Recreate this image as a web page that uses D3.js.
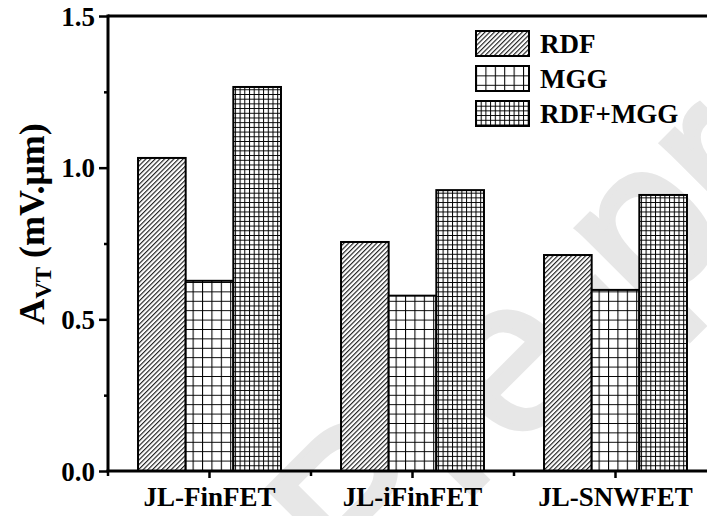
<!DOCTYPE html>
<html>
<head>
<meta charset="utf-8">
<script src="https://cdn.jsdelivr.net/npm/d3@7"></script>
<style>
  html, body { margin: 0; padding: 0; background: #fff; }
  svg { display: block; }
  text { font-family: "Liberation Serif", "Times New Roman", serif; font-weight: bold; fill: #000; }
</style>
</head>
<body>
<svg id="chart" width="707" height="516"></svg>
<script>
// Threshold-voltage variability coefficient for each device and variation source
const devices = ["JL-FinFET", "JL-iFinFET", "JL-SNWFET"];
const sources = ["RDF", "MGG", "RDF+MGG"];
const rdfValues = [1.032, 0.755, 0.712];
const mggValues = [0.627, 0.578, 0.597];
const combinedValues = [1.266, 0.926, 0.910];
const yMajorTicks = [0.0, 0.5, 1.0, 1.5];
const yMinorTicks = [0.25, 0.75, 1.25];
const yTickLabels = ["0.0", "0.5", "1.0", "1.5"];

const seriesValues = { "RDF": rdfValues, "MGG": mggValues, "RDF+MGG": combinedValues };
const rows = devices.map((d, i) => ({
  device: d,
  values: sources.map(s => ({ source: s, value: seriesValues[s][i] }))
}));

const W = 707, H = 516;
const svg = d3.select("#chart");

const plotLeft = 108, plotTop = 16, plotBottom = 471;
const x0 = d3.scaleBand().domain(devices).range([plotLeft, plotLeft + 203 * 3]).paddingInner(0).paddingOuter(0);
const x1 = d3.scaleBand().domain(sources).range([0, x0.bandwidth()]).paddingInner(0).paddingOuter(0.63);
const y = d3.scaleLinear().domain([0, 1.5]).range([plotBottom, plotTop]);

// Fill patterns
const defs = svg.append("defs");
const patId = s => "pat" + sources.indexOf(s);
defs.append("pattern")
  .attr("id", patId("RDF")).attr("patternUnits", "userSpaceOnUse")
  .attr("width", 3.3).attr("height", 3.3)
  .attr("patternTransform", "rotate(45)")
  .call(p => {
    p.append("rect").attr("width", 3.3).attr("height", 3.3).attr("fill", "#fff");
    p.append("line").attr("x1", 0.6).attr("y1", 0).attr("x2", 0.6).attr("y2", 3.3)
      .attr("stroke", "#000").attr("stroke-width", 1.0);
  });

function gridPattern(id, step, sw) {
  defs.append("pattern")
    .attr("id", id).attr("patternUnits", "userSpaceOnUse")
    .attr("width", step).attr("height", step)
    .call(p => {
      p.append("rect").attr("width", step).attr("height", step).attr("fill", "#fff");
      p.append("path").attr("d", `M0.5,0V${step}M0,0.5H${step}`)
        .attr("stroke", "#000").attr("stroke-width", sw).attr("fill", "none");
    });
}
gridPattern(patId("MGG"), 9.4, 1.1);
gridPattern(patId("RDF+MGG"), 4.7, 1.0);
const patUrl = s => `url(#${patId(s)})`;

// Watermark
svg.append("text")
  .attr("transform", "translate(-180,1146) rotate(-45)")
  .style("font-family", "'Liberation Sans', Arial, sans-serif")
  .style("font-weight", "normal")
  .style("font-size", "215px")
  .style("fill", "#e7e7e7")
  .style("stroke", "#e7e7e7")
  .style("stroke-width", 6)
  .text("Journal Pre-proof");

// Bars
const groups = svg.append("g").selectAll("g").data(rows).join("g")
  .attr("transform", d => `translate(${x0(d.device)},0)`);
groups.selectAll("rect").data(d => d.values).join("rect")
  .attr("x", d => x1(d.source))
  .attr("y", d => y(d.value))
  .attr("width", x1.bandwidth())
  .attr("height", d => y(0) - y(d.value))
  .attr("fill", d => patUrl(d.source))
  .attr("stroke", "#000").attr("stroke-width", 2);

// Top frame line (runs off to the right)
svg.append("line").attr("x1", plotLeft).attr("x2", W).attr("y1", plotTop).attr("y2", plotTop)
  .attr("stroke", "#000").attr("stroke-width", 3);

// Y axis
const yAxis = d3.axisLeft(y).tickValues(yMajorTicks)
  .tickFormat((d, i) => yTickLabels[i]).tickSize(9).tickPadding(4);
const gy = svg.append("g").attr("transform", `translate(${plotLeft},0)`).call(yAxis);
gy.select(".domain").attr("stroke-width", 3).attr("d", `M0,${plotTop - 1.5}V${plotBottom}`);
gy.selectAll(".tick line").attr("stroke-width", 2.5);
gy.selectAll(".tick text").style("font-size", "27px").attr("dy", "0.34em");
svg.append("g").attr("transform", `translate(${plotLeft},0)`)
  .call(d3.axisLeft(y).tickValues(yMinorTicks).tickSize(4).tickFormat(""))
  .call(g => g.select(".domain").remove())
  .selectAll("line").attr("stroke-width", 2.5);

// X axis
const xAxis = d3.axisBottom(x0).tickSize(7).tickPadding(9);
const gx = svg.append("g").attr("transform", `translate(0,${plotBottom})`).call(xAxis);
gx.select(".domain").attr("stroke-width", 3).attr("d", `M${plotLeft - 1.5},0H${W}`);
gx.selectAll(".tick line").attr("stroke-width", 2.5);
gx.selectAll(".tick text").style("font-size", "27px");
const boundaries = devices.map(d => x0(d)).concat([x0(devices[2]) + x0.bandwidth()]);
svg.append("g").attr("transform", `translate(0,${plotBottom})`)
  .selectAll("line").data(boundaries).join("line")
  .attr("x1", d => d).attr("x2", d => d).attr("y1", 0).attr("y2", 5)
  .attr("stroke", "#000").attr("stroke-width", 2.5);

// Y axis title
const yt = svg.append("text")
  .attr("transform", "translate(44,224) rotate(-90)")
  .attr("text-anchor", "middle")
  .style("font-size", "36px");
yt.append("tspan").text("A");
yt.append("tspan").attr("dy", 7).style("font-size", "23px").text("VT");
yt.append("tspan").attr("dy", -7).text(" (mV.\u03bcm)");

// Legend
const legend = svg.append("g").attr("transform", "translate(476,31)");
const items = legend.selectAll("g").data(sources).join("g")
  .attr("transform", (d, i) => `translate(0,${i * 35})`);
items.append("rect").attr("width", 53).attr("height", 25)
  .attr("fill", d => patUrl(d)).attr("stroke", "#000").attr("stroke-width", 2);
items.append("text").attr("x", 64).attr("y", 12.5).attr("dy", "0.35em")
  .style("font-size", "27px").text(d => d);
</script>
</body>
</html>
